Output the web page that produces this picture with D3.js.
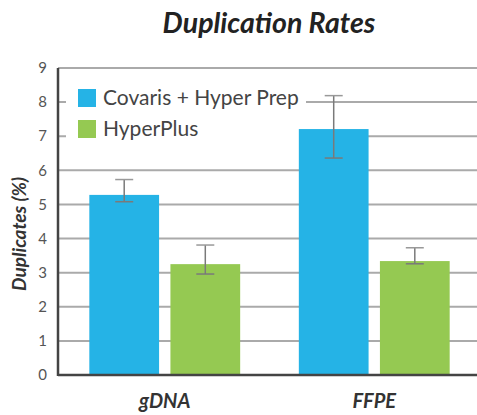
<!DOCTYPE html>
<html>
<head>
<meta charset="utf-8">
<script src="https://cdn.jsdelivr.net/npm/d3@7"></script>
<style>
  body { margin: 0; background: #fff; }
  text { font-family: Lato, sans-serif; }
</style>
</head>
<body>
<svg id="chart"></svg>
<script>
const width = 477;
const height = 415;
const margin = { top: 68, right: 0, bottom: 40, left: 58 };

const groups = ["gDNA", "FFPE"];
const seriesNames = ["Covaris + Hyper Prep", "HyperPlus"];
const seriesColors = ["#25b3e6", "#95c952"];
const covarisValues = [5.28, 7.21];
const hyperPlusValues = [3.25, 3.34];
const covarisErrLow = [5.08, 6.36];
const covarisErrHigh = [5.73, 8.19];
const hyperPlusErrLow = [2.96, 3.26];
const hyperPlusErrHigh = [3.81, 3.73];
const yTicks = [0, 1, 2, 3, 4, 5, 6, 7, 8, 9];

// build rows for the grouped bars
const rows = [];
groups.forEach((g, i) => {
  rows.push({ group: g, series: seriesNames[0], value: covarisValues[i], lo: covarisErrLow[i], hi: covarisErrHigh[i] });
  rows.push({ group: g, series: seriesNames[1], value: hyperPlusValues[i], lo: hyperPlusErrLow[i], hi: hyperPlusErrHigh[i] });
});

const svg = d3.select("#chart").attr("width", width).attr("height", height);

const y = d3.scaleLinear().domain([0, 9]).range([375, 68]);
const x0 = d3.scaleBand().domain(groups).range([60, 479]).paddingInner(0.28).paddingOuter(0.14);
const x1 = d3.scaleBand().domain(seriesNames).range([0, x0.bandwidth()]).paddingInner(0.14);
const color = d3.scaleOrdinal().domain(seriesNames).range(seriesColors);

// Title
svg.append("text")
  .attr("x", 269)
  .attr("y", 33)
  .attr("text-anchor", "middle")
  .style("font-size", "28.5px")
  .style("font-weight", "bold")
  .style("font-style", "italic")
  .style("fill", "#222")
  .text("Duplication Rates");

// Gridlines
svg.append("g")
  .selectAll("line")
  .data(yTicks.slice(1))
  .join("line")
  .attr("x1", margin.left)
  .attr("x2", width)
  .attr("y1", d => y(d))
  .attr("y2", d => y(d))
  .attr("stroke", "#aaaaaa")
  .attr("stroke-width", 2);

// Y tick labels
svg.append("g")
  .selectAll("text")
  .data(yTicks)
  .join("text")
  .attr("x", 47)
  .attr("y", d => y(d))
  .attr("dy", "0.35em")
  .attr("text-anchor", "end")
  .style("font-size", "15px")
  .style("fill", "#555")
  .text(d => d);

// Y axis title
svg.append("text")
  .attr("transform", `translate(26, 234) rotate(-90)`)
  .attr("text-anchor", "middle")
  .style("font-size", "19px")
  .style("font-weight", "bold")
  .style("font-style", "italic")
  .style("fill", "#333")
  .text("Duplicates (%)");

// Legend background hides the gridlines behind it
svg.append("rect")
  .attr("x", 66)
  .attr("y", 78)
  .attr("width", 240)
  .attr("height", 68)
  .attr("fill", "#fff");

// Bars
svg.append("g")
  .selectAll("rect")
  .data(rows)
  .join("rect")
  .attr("x", d => x0(d.group) + x1(d.series))
  .attr("y", d => y(d.value))
  .attr("width", x1.bandwidth())
  .attr("height", d => y(0) - y(d.value))
  .attr("fill", d => color(d.series));

// Error bars
const err = svg.append("g")
  .selectAll("g")
  .data(rows)
  .join("g")
  .attr("transform", d => `translate(${x0(d.group) + x1(d.series) + x1.bandwidth() / 2},0)`);

err.append("line")
  .attr("y1", d => y(d.lo))
  .attr("y2", d => y(d.hi))
  .attr("stroke", "#7a7a7a")
  .attr("stroke-width", 1.5);

err.append("line")
  .attr("x1", -9).attr("x2", 9)
  .attr("y1", d => y(d.hi))
  .attr("y2", d => y(d.hi))
  .attr("stroke", "#999")
  .attr("stroke-width", 1.5);

err.append("line")
  .attr("x1", -9).attr("x2", 9)
  .attr("y1", d => y(d.lo))
  .attr("y2", d => y(d.lo))
  .attr("stroke", "#7a7a7a")
  .attr("stroke-width", 1.5);

// Axes lines
svg.append("line")
  .attr("x1", margin.left).attr("x2", margin.left)
  .attr("y1", y(9)).attr("y2", y(0) + 1)
  .attr("stroke", "#444")
  .attr("stroke-width", 2.5);

svg.append("line")
  .attr("x1", margin.left).attr("x2", width)
  .attr("y1", y(0)).attr("y2", y(0))
  .attr("stroke", "#444")
  .attr("stroke-width", 2.5);

// X labels
svg.append("g")
  .selectAll("text")
  .data(groups)
  .join("text")
  .attr("x", d => x0(d) + x0.bandwidth() / 2)
  .attr("y", 408)
  .attr("text-anchor", "middle")
  .style("font-size", "20px")
  .style("font-weight", "bold")
  .style("font-style", "italic")
  .style("fill", "#333")
  .text(d => d);

// Legend
const legend = svg.append("g")
  .selectAll("g")
  .data(seriesNames)
  .join("g")
  .attr("transform", (d, i) => `translate(78, ${89 + i * 31})`);

legend.append("rect")
  .attr("width", 18)
  .attr("height", 18)
  .attr("fill", d => color(d));

legend.append("text")
  .attr("x", 25)
  .attr("y", 16)
  .style("font-size", "21px")
  .style("fill", "#444")
  .text(d => d);
</script>
</body>
</html>
